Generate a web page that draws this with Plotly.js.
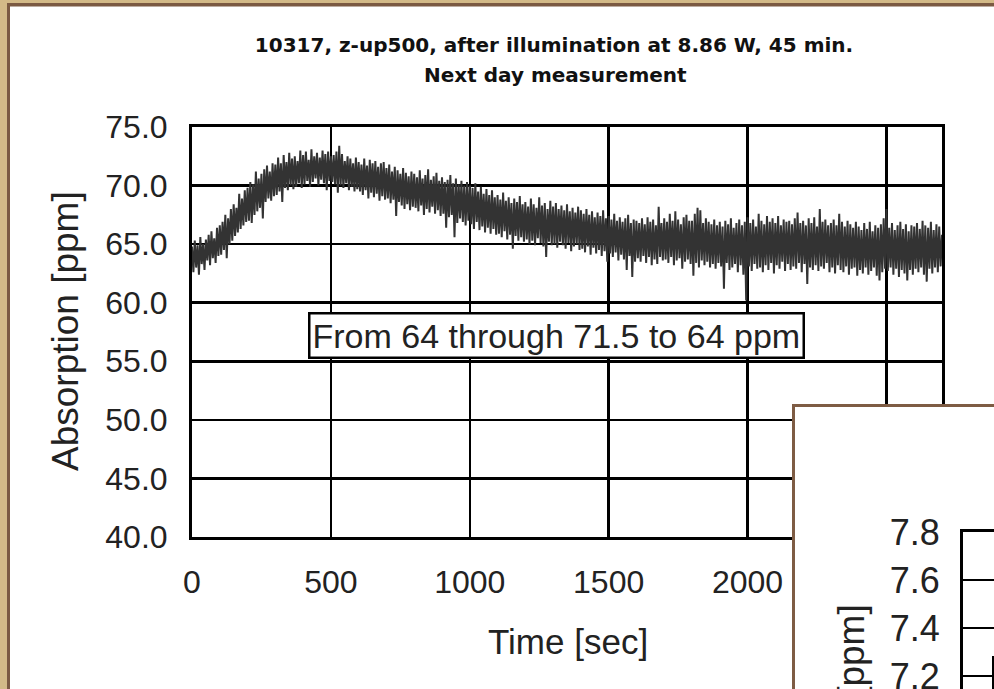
<!DOCTYPE html>
<html>
<head>
<meta charset="utf-8">
<script src="https://cdn.plot.ly/plotly-3.0.1.min.js"></script>
<style>html,body{margin:0;padding:0;background:#fff;}#chart{width:994px;height:689px;}</style>
</head>
<body>
<div id="chart"></div>
<script>
// ---- data ----
const chartTitle = "10317, z-up500, after illumination at 8.86 W, 45 min.";
const chartSubtitle = "Next day measurement";
const xTitle = "Time [sec]";
const yTitle = "Absorption [ppm]";
const noteText = "From 64 through 71.5 to 64 ppm";
const timeStart = 0;      // s
const timeStep = 5;       // s between samples
const xTickVals = [0, 500, 1000, 1500, 2000, 2500];
const xTickText = ["0", "500", "1000", "1500", "2000", ""];   // 2500 is hidden under the inset picture
const yTickVals = [40, 45, 50, 55, 60, 65, 70, 75];
const insetTickVals = [7.2, 7.4, 7.6, 7.8];
const absorption = [
64.8,62.6,65.3,63.0,64.9,62.4,65.6,63.3,65.0,62.8,65.4,63.6,65.8,63.2,66.1,63.8,65.5,63.4,66.4,64.0,
66.6,64.1,66.9,64.5,67.5,63.8,67.2,65.0,68.0,65.3,68.4,65.7,68.1,66.0,69.3,66.3,68.9,66.6,69.6,66.9,
69.8,67.0,70.3,66.8,70.1,67.5,71.2,67.8,70.6,68.1,71.0,67.2,71.4,68.6,71.7,68.9,71.2,68.7,71.9,69.1,
71.8,69.2,72.4,69.5,71.9,68.6,72.6,69.8,72.0,69.6,72.8,70.0,72.3,69.7,72.5,69.9,72.1,70.2,73.0,69.8,
72.6,70.1,72.9,70.4,72.2,69.9,73.1,70.3,72.5,70.6,72.8,70.0,72.4,70.5,73.0,70.2,72.7,69.6,72.9,70.4,
72.5,70.3,72.6,70.1,72.9,69.4,73.4,70.0,72.7,69.8,72.1,70.2,72.5,69.6,72.3,69.9,71.9,69.5,72.4,69.7,
72.0,69.5,71.8,69.2,72.3,69.6,71.7,68.9,72.2,69.4,71.9,69.0,72.1,69.3,71.6,68.7,71.9,69.1,72.0,68.8,
71.5,68.9,71.8,68.5,71.2,68.8,71.6,67.4,71.3,68.6,71.0,68.3,71.5,68.0,71.1,68.4,70.8,67.9,71.2,68.2,
71.0,68.1,70.7,67.8,71.3,68.3,70.6,67.5,70.9,68.0,71.4,67.7,70.5,68.2,70.8,67.6,71.1,67.9,70.4,67.4,
70.7,67.6,70.3,66.4,70.5,67.3,70.9,67.5,70.2,65.6,70.6,66.8,70.1,67.2,70.4,66.9,70.0,66.6,70.3,67.0,
70.0,66.7,69.8,66.3,70.2,66.9,69.5,66.2,69.9,66.5,69.3,66.0,69.7,66.4,69.2,65.9,69.6,66.3,69.0,65.8,
69.2,65.9,68.8,65.6,69.4,66.1,68.7,65.4,69.0,65.8,68.5,64.6,68.9,65.7,68.6,65.3,69.1,65.6,68.4,65.2,
68.6,65.4,68.2,65.0,68.9,65.3,68.4,64.9,68.1,65.5,69.0,65.1,68.3,64.8,68.5,63.9,68.0,65.2,68.7,64.9,
68.2,65.0,68.5,64.7,68.0,65.2,68.3,64.9,67.9,64.6,68.4,65.1,67.8,64.4,68.1,64.8,67.7,65.0,68.2,64.5,
67.9,64.6,67.6,64.3,68.0,64.8,67.5,64.1,67.8,64.7,67.3,64.2,67.7,64.5,67.4,64.0,67.9,64.4,67.2,63.5,
67.4,64.2,67.1,63.9,67.6,64.3,67.0,63.6,67.3,64.1,66.9,63.7,67.2,62.8,67.5,64.0,66.8,62.2,67.1,63.5,
67.0,63.8,66.8,63.5,67.2,64.0,66.7,63.4,67.3,63.9,66.9,63.2,67.1,63.7,66.6,63.3,68.2,63.9,66.8,63.6,
67.2,63.7,66.9,63.4,67.6,63.9,67.0,63.2,67.8,63.6,67.1,63.8,66.7,62.9,67.3,63.5,67.5,63.7,67.0,63.3,
67.0,62.3,67.6,63.4,68.1,63.0,67.9,63.6,66.8,63.2,67.2,63.5,66.9,63.0,66.7,63.3,67.1,62.9,66.6,63.4,
66.9,63.1,66.5,61.2,67.0,63.4,66.7,62.8,67.2,63.0,66.4,63.3,66.8,62.6,67.1,63.2,66.6,62.4,66.9,60.2,
67.3,63.1,66.8,62.7,67.1,63.3,66.5,62.9,67.6,63.0,67.0,62.6,66.7,63.2,67.4,62.8,66.9,63.4,67.2,62.5,
66.8,63.2,67.4,62.9,66.6,63.5,67.1,62.7,66.9,63.3,67.0,62.8,66.7,63.1,67.2,62.9,67.7,63.4,66.8,62.6,
67.0,63.3,66.6,61.6,67.2,63.0,66.8,62.8,67.3,63.2,66.5,62.7,68.0,63.1,66.9,62.9,67.1,63.4,66.6,62.6,
66.8,63.0,67.1,62.5,66.6,63.2,67.6,62.8,66.9,62.6,66.5,63.1,67.0,62.4,66.7,62.9,66.4,63.0,66.9,62.3,
66.5,62.8,66.2,62.5,66.8,63.0,66.3,62.4,66.9,62.7,66.1,63.0,66.6,62.3,66.4,61.9,66.7,62.6,67.2,62.9,
68.0,62.7,66.4,63.0,66.8,62.4,66.2,62.9,66.6,62.2,66.9,62.8,66.3,62.5,66.7,61.9,66.1,62.8,66.6,62.4,
66.5,62.9,66.8,62.6,66.3,63.0,67.0,62.4,66.6,61.8,66.4,62.9,66.9,62.5,66.2,63.0,66.7,62.6,66.5,63.1,65.8
];

// ---- layout helpers (pixel -> paper) ----
const W = 994, H = 689;
const px = v => v / W;
const py = v => 1 - v / H;

const tickFont = {family: "Liberation Sans, Arial, sans-serif", size: 32, color: "#222"};

const traces = [
  {type: "scatter", mode: "lines", x0: timeStart, dx: timeStep, y: absorption,
   line: {color: "#333333", width: 2}, xaxis: "x", yaxis: "y", hoverinfo: "skip"},
  {type: "scatter", mode: "lines", x: [], y: [], xaxis: "x2", yaxis: "y2", hoverinfo: "skip"},
  {type: "scatter", mode: "lines", x: [], y: [], xaxis: "x3", yaxis: "y3", hoverinfo: "skip"}
];

const layout = {
  width: W, height: H, autosize: false,
  margin: {l: 0, r: 0, t: 0, b: 0, pad: 0},
  paper_bgcolor: "#ffffff", plot_bgcolor: "#ffffff",
  showlegend: false,
  title: {text: chartTitle, x: px(554), y: py(45), xref: "paper", yref: "paper",
          xanchor: "center", yanchor: "middle",
          font: {family: "DejaVu Sans, sans-serif", size: 20, weight: "bold", color: "#111"}},
  xaxis: {domain: [px(192), px(942)], anchor: "y", range: [0, 2700], tickvals: xTickVals, ticktext: xTickText,
          showgrid: true, gridcolor: "#000", gridwidth: 2.5, zeroline: false,
          showline: true, linecolor: "#000", linewidth: 3, mirror: true,
          ticks: "outside", ticklen: 15, tickcolor: "rgba(0,0,0,0)", tickfont: tickFont},
  yaxis: {domain: [py(537), py(127)], anchor: "x", range: [40, 75], tickvals: yTickVals, tickformat: ".1f",
          showgrid: true, gridcolor: "#000", gridwidth: 2.5, zeroline: false,
          showline: true, linecolor: "#000", linewidth: 3, mirror: true,
          ticks: "outside", ticklen: 15, tickcolor: "rgba(0,0,0,0)", tickfont: tickFont},
  xaxis2: {domain: [px(792), 1], anchor: "y2", range: [0, 1], visible: false},
  yaxis2: {domain: [0, py(404)], anchor: "x2", range: [0, 1], visible: false},
  xaxis3: {domain: [px(963), 1], anchor: "y3", side: "top", range: [0, 1],
           showgrid: false, zeroline: false, showticklabels: false, ticks: "",
           showline: true, linecolor: "#000", linewidth: 3},
  yaxis3: {domain: [0, py(532)], anchor: "x3", range: [7.8 - 157 * 0.2 / 48, 7.8],
           tickvals: insetTickVals, tickformat: ".1f", ticklabeloverflow: "allow",
           showgrid: true, gridcolor: "#000", gridwidth: 2.5, zeroline: false,
           showline: true, linecolor: "#000", linewidth: 3,
           ticks: "outside", ticklen: 13, tickcolor: "rgba(0,0,0,0)",
           tickfont: {family: "Liberation Sans, Arial, sans-serif", size: 36, color: "#222"}},
  annotations: [
    {text: chartSubtitle, xref: "paper", yref: "paper", x: px(555), y: py(75), showarrow: false,
     xanchor: "center", yanchor: "middle",
     font: {family: "DejaVu Sans, sans-serif", size: 20, weight: "bold", color: "#111"}},
    {text: noteText, xref: "paper", yref: "paper", x: px(556), y: py(335.5), showarrow: false,
     xanchor: "center", yanchor: "middle", bgcolor: "#fff", bordercolor: "#000", borderwidth: 2.5, borderpad: 2,
     font: {family: "Liberation Sans, Arial, sans-serif", size: 34, color: "#222"}},
    {text: xTitle, xref: "paper", yref: "paper", x: px(568), y: py(641), showarrow: false,
     xanchor: "center", yanchor: "middle",
     font: {family: "Liberation Sans, Arial, sans-serif", size: 35, color: "#222"}},
    {text: yTitle, xref: "paper", yref: "paper", x: px(65), y: py(331), showarrow: false, textangle: -90,
     xanchor: "center", yanchor: "middle",
     font: {family: "Liberation Sans, Arial, sans-serif", size: 37, color: "#222"}},
    {text: yTitle, xref: "paper", yref: "paper", x: px(851), y: py(602), showarrow: false, textangle: -90,
     xanchor: "center", yanchor: "top",
     font: {family: "Liberation Sans, Arial, sans-serif", size: 37, color: "#222"}}
  ],
  shapes: [
    // outer picture frame (tan + brown)
    {type: "rect", xref: "paper", yref: "paper", x0: 0, x1: px(7), y0: 0, y1: 1, fillcolor: "#d3ba88", line: {width: 0}, layer: "above"},
    {type: "rect", xref: "paper", yref: "paper", x0: 0, x1: 1, y0: py(3), y1: 1, fillcolor: "#d3ba88", line: {width: 0}, layer: "above"},
    {type: "rect", xref: "paper", yref: "paper", x0: px(7), x1: px(10), y0: 0, y1: py(3), fillcolor: "#7b5a43", line: {width: 0}, layer: "above"},
    {type: "rect", xref: "paper", yref: "paper", x0: px(7), x1: 1, y0: py(6.5), y1: py(3), fillcolor: "#7b5a43", line: {width: 0}, layer: "above"},
    // inset picture border
    {type: "rect", xref: "paper", yref: "paper", x0: px(793.5), x1: 1.1, y0: -0.1, y1: py(405.5),
     fillcolor: "rgba(0,0,0,0)", line: {color: "#7e5c44", width: 3}, layer: "above"},
    // corner of a box inside the inset
    {type: "rect", xref: "paper", yref: "paper", x0: px(993), x1: 1.1, y0: -0.1, y1: py(657),
     fillcolor: "rgba(0,0,0,0)", line: {color: "#000", width: 2}, layer: "above"}
  ]
};

Plotly.newPlot("chart", traces, layout, {staticPlot: true, displayModeBar: false});
</script>
</body>
</html>
